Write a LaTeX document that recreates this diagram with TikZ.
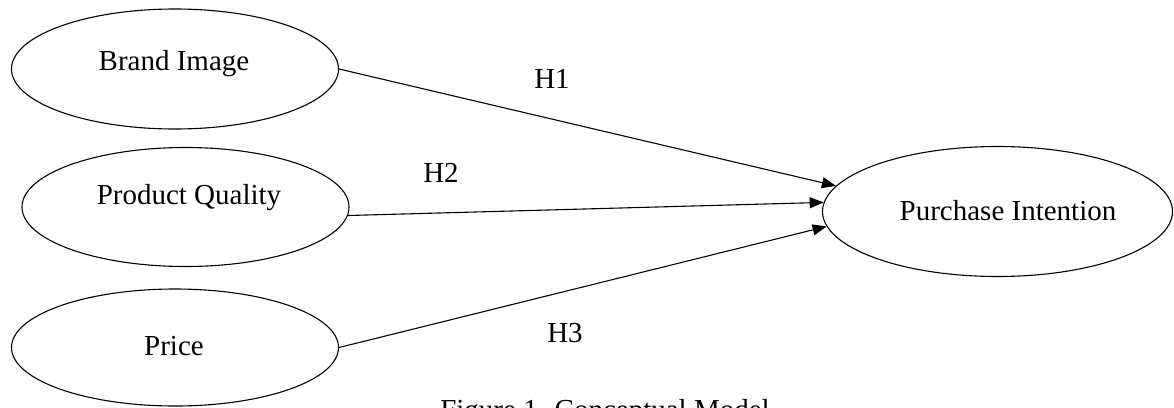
\documentclass[tikz,border=0pt]{standalone}
\usepackage{fontspec}
\setmainfont{Liberation Serif}
\usetikzlibrary{arrows.meta,shapes.geometric}
\tikzset{
  construct/.style={draw, ellipse, line width=1.1pt, inner sep=0pt},
  lbl/.style={anchor=base, inner sep=0pt, font=\fontsize{29}{34}\selectfont},
  path/.style={draw, line width=1.1pt, -{Triangle[length=14pt,width=11pt]}}
}
\begin{document}
\begin{tikzpicture}[x=1pt,y=-1pt]
\useasboundingbox (0,0) rectangle (1174,407);
\node[construct, minimum width=327pt, minimum height=120pt] (BI) at (175,69) {};
\node[construct, minimum width=327pt, minimum height=119pt] (PQ) at (185.5,207) {};
\node[construct, minimum width=327pt, minimum height=117pt] (PR) at (175,347.5) {};
\node[construct, minimum width=350pt, minimum height=130pt] (PI) at (997.5,211.5) {};
\node[lbl] (tBI) at (174,70.5) {Brand Image};
\node[lbl] (tPQ) at (189,204) {Product Quality};
\node[lbl] (tPR) at (174,355) {Price};
\node[lbl] (tPI) at (1008,220.5) {Purchase Intention};
\draw[path] (BI.east) -- (PI.171);
\draw[path] (PQ.357) -- (PI.177.4);
\draw[path] (PR.east) -- (PI.185);
\node[lbl] (h1) at (552,88) {H1};
\node[lbl] (h2) at (441,182) {H2};
\node[lbl] (h3) at (565,342) {H3};
\node[lbl] (cap) at (605,419) {Figure 1.  Conceptual Model};
\end{tikzpicture}
\end{document}
